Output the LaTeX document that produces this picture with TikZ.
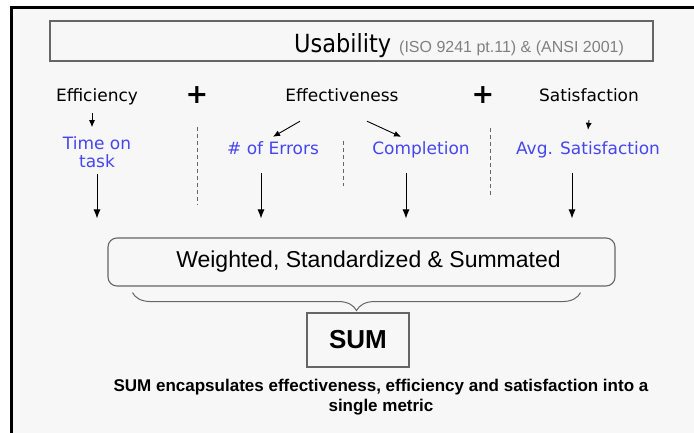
\documentclass[tikz,border=0pt]{standalone}
\usepackage{fontspec}
\setmainfont{Liberation Sans}
\newfontfamily\verdfont{DejaVu Sans}
\newfontfamily\condfont{DejaVu Sans Condensed}
\usepackage{tikz}
\usetikzlibrary{arrows.meta}
\usetikzlibrary{positioning}
\usetikzlibrary{decorations.pathreplacing}
\definecolor{panel}{HTML}{F7F7F7}
\definecolor{metricblue}{HTML}{4646F0}
\definecolor{boxgray}{HTML}{666666}
\tikzset{
plaintext/.style={
  font=\verdfont\fontsize{17}{18}\selectfont,
  inner sep=0pt
},
measure/.style={plaintext, text height=13pt, text depth=4pt},
metric/.style={measure, text=metricblue},
plussign/.style={font=\verdfont\bfseries\fontsize{27}{27}\selectfont, inner sep=0pt},
smallarrow/.style={-{Latex[length=7pt,width=6pt]}, line width=0.9pt},
longarrow/.style={-{Latex[length=9pt,width=7pt]}, line width=0.9pt},
divider/.style={gray!80!black, line width=0.8pt, dash pattern=on 4pt off 3pt},
headbox/.style={draw=boxgray, line width=1.3pt, minimum width=603pt, minimum height=40pt},
sumbox/.style={draw=boxgray, line width=1.1pt, rounded corners=9pt,
  minimum width=507pt, minimum height=48pt,
  font=\fontsize{23}{26}\selectfont},
totalbox/.style={draw=boxgray, line width=1.1pt, minimum width=102pt, minimum height=54pt,
  font=\bfseries\fontsize{26}{28}\selectfont},
}

\begin{document}
\begin{tikzpicture}[x=1pt,y=-1pt]
\useasboundingbox (0,0) rectangle (694,433);
% panel and its frame
\fill[panel] (11,8) rectangle (700,440);
\draw[line width=3pt] (11,440) -- (11,8) -- (700,8);

% title bar
\node[headbox] (usab) at (351.5,41) {};
\node[anchor=base, inner sep=0pt] (usabtext) at (459,53)
  {\condfont\fontsize{25}{28}\selectfont Usability\hspace{8pt}%
   {\rmfamily\color{gray}\fontsize{16}{18}\selectfont (ISO 9241 pt.11) \& (ANSI 2001)}};

% the three components
\node[measure] (eff) at (97,97) {Efficiency};
\node[plussign] (plusa) at (197,95) {+};
\node[measure] (effv) at (342,97) {Effectiveness};
\node[plussign] (plusb) at (483,95) {+};
\node[measure] (sat) at (589,97) {Satisfaction};

% the measures
\node[plaintext, text=metricblue, align=center] (time) at (97,152) {Time on\\task};
\node[metric] (errors) at (273,150) {\# of Errors};
\node[metric] (compl) at (421,150) {Completion};
\node[metric] (avgsat) at (588,150) {Avg. Satisfaction};

% the arrows
\draw[smallarrow] ([xshift=-5pt,yshift=-7.5pt]eff.south) -- ([xshift=-5pt,yshift=9pt]time.north);
\draw[smallarrow] ([xshift=-42pt,yshift=-15.5pt]effv.south) -- ([yshift=4.5pt]errors.north);
\draw[smallarrow] ([xshift=25pt,yshift=-15.5pt]effv.south) -- ([xshift=-20pt,yshift=4.5pt]compl.north);
\draw[smallarrow] ([yshift=-14.5pt]sat.south) -- ([yshift=11.5pt]avgsat.north);

% dividers
\draw[divider] ([yshift=-32pt]plusa.center) -- ++(0,78);
\draw[divider] (effv.center) ++(1,44) -- ++(0,45);
\draw[divider] ([yshift=-33pt]plusb.center) ++(7,0) -- ++(0,67);

% weighting
\node[sumbox] (wsum) at (361.5,262) {\hspace{14pt}Weighted, Standardized \& Summated};
\foreach \m/\dx/\dy in {time/0/-6,errors/-12/-14.5,compl/-15/-14.5,avgsat/-16/-14.5}
{
  \draw[longarrow]
    ([xshift=\dx pt,yshift=\dy pt]\m.south) --
    ([xshift=\dx pt,yshift=19pt]\m.south |- wsum.north);
}

% brace and total
\node[totalbox] (total) at (358,340) {SUM};
\draw[boxgray, line width=1pt, decorate, decoration={brace, mirror, amplitude=18pt}]
  ([xshift=25pt,yshift=-6pt]wsum.south west) -- ([xshift=-35pt,yshift=-6pt]wsum.south east);

\node[font=\bfseries\fontsize{17}{20}\selectfont, align=center, inner sep=0pt]
  (caption) at (381,397)
  {SUM encapsulates effectiveness, efficiency and satisfaction into a\\single metric};
\end{tikzpicture}
\end{document}
